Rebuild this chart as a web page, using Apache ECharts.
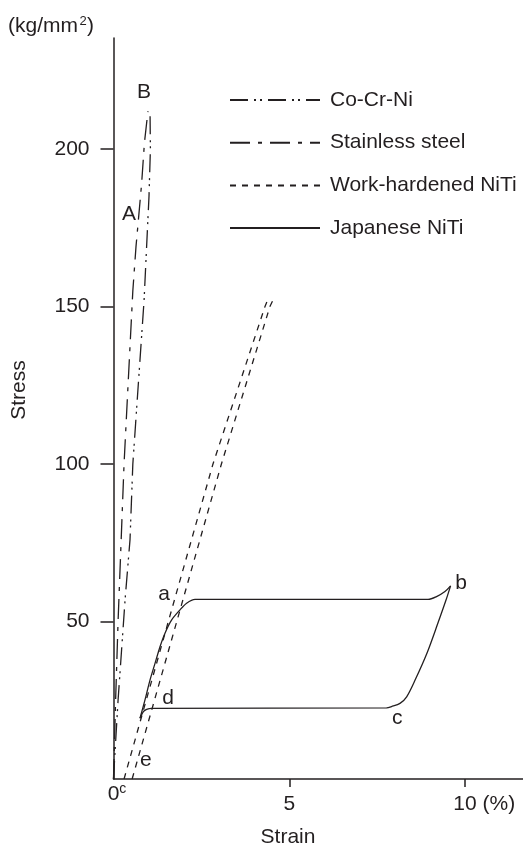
<!DOCTYPE html>
<html>
<head>
<meta charset="utf-8">
<script src="https://cdn.jsdelivr.net/npm/echarts@6/dist/echarts.min.js"></script>
<style>
  html, body { margin: 0; padding: 0; background: #ffffff; }
  #chart { width: 523px; height: 846px; }
</style>
</head>
<body>
<div id="chart"></div>
<script>
const FONT = '"Liberation Sans", Arial, Helvetica, sans-serif';
const INK = '#231f20';

// Axis ticks
const strainTicks = [0, 5, 10];
const stressTicks = [50, 100, 150, 200];

// Co-Cr-Ni wire (curve B)
const coCrNiStrain = [0, 0.04, 0.13, 0.33, 0.47, 0.55, 0.87, 1.01, 1.05, 1.04];
const coCrNiStress = [0, 8, 25, 57, 76, 100, 152, 185, 200, 211];

// Stainless steel wire (curve A)
const steelStrain = [0, 0.06, 0.13, 0.30, 0.55, 0.64, 0.80, 0.88, 0.98];
const steelStress = [0, 25, 50, 100, 155, 169, 189, 202, 212];

// Work-hardened NiTi, the two parallel branches
const workLoadStrain = [0.30, 1.56, 2.83, 4.31, 4.42];
const workLoadStress = [0, 50, 100, 150, 153];
const workUnloadStrain = [0.53, 1.80, 3.07, 4.45, 4.58];
const workUnloadStress = [0, 50, 100, 150, 153];

// Japanese NiTi: loading branch d -> a -> b
const jpLoadStrain = [0.754, 0.896, 1.038, 1.181, 1.323, 1.465, 1.655, 1.892, 2.08, 2.32, 2.46,
                      8.95, 9.19, 9.43, 9.59];
const jpLoadStress = [19.3, 25.1, 31.4, 36.7, 42.0, 46.3, 50.5, 53.7, 55.8, 57.0, 57.0,
                      57.0, 57.9, 59.5, 61.3];
// Japanese NiTi: unloading branch b -> c -> d
const jpUnloadStrain = [9.59, 9.46, 9.23, 8.92, 8.58, 8.34, 8.15, 7.91, 7.77,
                        1.087, 0.944, 0.85, 0.754];
const jpUnloadStress = [61.3, 56.8, 49.5, 40.0, 31.4, 26.1, 24.0, 23.0, 22.6,
                        22.4, 22.1, 21.4, 19.3];

// Point letters along the curves
const markNames = ['A', 'B', 'a', 'b', 'c', 'd', 'e'];
const markStrain = [0.44, 0.868, 1.437, 9.89, 8.07, 1.55, 0.92];
const markStress = [179.2, 217.9, 58.7, 62.2, 19.4, 25.7, 6.0];

const legendNames = ['Co-Cr-Ni', 'Stainless steel', 'Work-hardened NiTi', 'Japanese NiTi'];

const zip = (xs, ys) => xs.map((x, i) => [x, ys[i]]);

function lineSeries(name, xs, ys, type, smooth) {
  return {
    name: name,
    type: 'line',
    data: zip(xs, ys),
    symbol: 'none',
    smooth: smooth || false,
    silent: true,
    color: INK,
    lineStyle: { color: INK, width: 1.3, type: type }
  };
}

const chart = echarts.init(document.getElementById('chart'), null, { renderer: 'canvas' });

chart.setOption({
  animation: false,
  backgroundColor: '#ffffff',
  textStyle: { fontFamily: FONT, color: INK },
  grid: { left: 113.5, right: 0, top: 38, bottom: 67, containLabel: false },
  legend: {
    orient: 'vertical',
    left: 224,
    top: 84,
    itemWidth: 90,
    itemHeight: 14,
    itemGap: 20.7,
    selectedMode: false,
    data: legendNames,
    itemStyle: { opacity: 0 },
    textStyle: { fontFamily: FONT, fontSize: 21, color: INK, lineHeight: 22, padding: [0, 0, 0, 5] }
  },
  xAxis: {
    type: 'value',
    min: 0,
    max: 11.65,
    interval: 5,
    splitLine: { show: false },
    axisLine: { lineStyle: { color: INK, width: 1.5 } },
    axisTick: { show: true, length: 8, lineStyle: { color: INK, width: 1.5 }, customValues: [5, 10] },
    axisLabel: {
      customValues: strainTicks,
      margin: 9,
      color: INK,
      fontFamily: FONT,
      fontSize: 21,
      formatter: function (v) {
        if (v === 0) return '{z|0}{s|c}';
        if (v === 10) return '{u|10 (%)}';
        return '{n|' + v + '}';
      },
      rich: {
        n: { fontSize: 21, lineHeight: 33, color: INK, fontFamily: FONT },
        z: { fontSize: 21, lineHeight: 13, padding: [0, 0, 0, 7], color: INK, fontFamily: FONT },
        s: { fontSize: 14, lineHeight: 2, padding: [0, 0, 11, 0], color: INK, fontFamily: FONT },
        u: { fontSize: 21, lineHeight: 33, padding: [0, 0, 0, 38.5], color: INK, fontFamily: FONT }
      }
    }
  },
  yAxis: {
    type: 'value',
    min: 0,
    max: 235.24,
    interval: 50,
    splitLine: { show: false },
    axisLine: { lineStyle: { color: INK, width: 1.5 } },
    axisTick: { show: true, length: 13, lineStyle: { color: INK, width: 1.5 }, customValues: stressTicks },
    axisLabel: {
      customValues: stressTicks,
      margin: 24,
      color: INK,
      fontFamily: FONT,
      fontSize: 21
    }
  },
  graphic: [
    // unit label "(kg/mm²)" built from three pieces so the exponent sits raised
    { type: 'text', x: 8, y: 26, style: { text: '(kg/mm', fontSize: 21, fontFamily: FONT, fill: INK, verticalAlign: 'middle' } },
    { type: 'text', x: 79.5, y: 21.5, style: { text: '2', fontSize: 13, fontFamily: FONT, fill: INK, verticalAlign: 'middle' } },
    { type: 'text', x: 87, y: 26, style: { text: ')', fontSize: 21, fontFamily: FONT, fill: INK, verticalAlign: 'middle' } },
    {
      type: 'text',
      x: 19.5,
      y: 390,
      rotation: Math.PI / 2,
      style: { text: 'Stress', fontSize: 21, fontFamily: FONT, fill: INK, align: 'center', verticalAlign: 'middle' }
    },
    {
      type: 'text',
      x: 288,
      y: 837.5,
      style: { text: 'Strain', fontSize: 21, fontFamily: FONT, fill: INK, align: 'center', verticalAlign: 'middle' }
    }
  ],
  series: [
    lineSeries('Co-Cr-Ni', coCrNiStrain, coCrNiStress, [18, 6, 2, 4, 2, 6]),
    lineSeries('Stainless steel', steelStrain, steelStress, [20, 8, 4, 8]),
    lineSeries('Work-hardened NiTi', workLoadStrain, workLoadStress, [6, 6]),
    lineSeries('Work-hardened NiTi', workUnloadStrain, workUnloadStress, [6, 6]),
    lineSeries('Japanese NiTi', jpLoadStrain, jpLoadStress, 'solid', 0.3),
    lineSeries('Japanese NiTi', jpUnloadStrain, jpUnloadStress, 'solid', 0.3),
    {
      name: 'points',
      type: 'scatter',
      silent: true,
      symbolSize: 1,
      itemStyle: { color: 'rgba(0,0,0,0)', opacity: 1 },
      data: markNames.map((n, i) => ({ name: n, value: [markStrain[i], markStress[i]] })),
      label: {
        show: true,
        position: 'inside',
        formatter: p => p.name,
        fontFamily: FONT,
        fontSize: 21,
        color: INK,
        opacity: 1
      }
    }
  ]
});
</script>
</body>
</html>
